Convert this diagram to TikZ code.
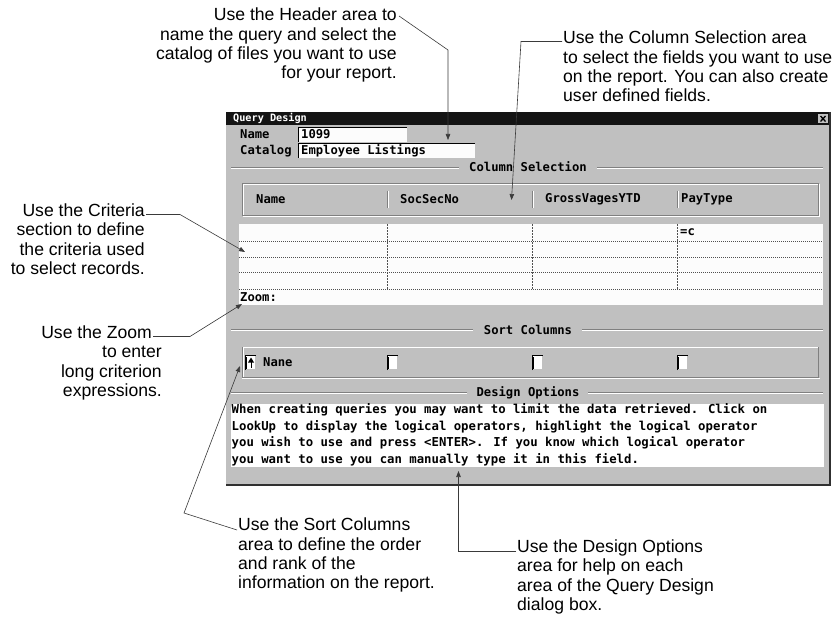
\documentclass[tikz,border=0pt]{standalone}
\usepackage{fontspec}
\setmainfont{Liberation Sans}
\newfontfamily\dlgfont{DejaVu Sans Mono}
\usetikzlibrary{arrows.meta}
\definecolor{wingray}{HTML}{C0C0C0}
\definecolor{winwhite}{HTML}{FCFCFC}
\definecolor{shade}{HTML}{808080}
\definecolor{titlebar}{HTML}{141414}
\definecolor{leader}{HTML}{3A3A3A}
\definecolor{dotc}{HTML}{505050}
\definecolor{frame}{HTML}{303030}
\tikzset{
  callout/.style={font=\fontsize{17.6}{19.3}\selectfont, inner sep=0pt, text=black},
  dlg/.style={font=\dlgfont\bfseries\fontsize{12.2}{14}\selectfont, inner sep=0pt, anchor=west, text=black},
  dlgbig/.style={font=\dlgfont\bfseries\fontsize{12.3}{14}\selectfont, inner sep=0pt, anchor=west, text=black},
  dlgtitle/.style={font=\dlgfont\bfseries\fontsize{10.2}{12}\selectfont, inner sep=0pt, anchor=west, text=white},
  leadline/.style={draw=leader, line width=0.6pt},
  pointer/.style={leadline, -{Triangle[length=6pt,width=4.5pt]}},
  etchdark/.style={draw=shade, line width=1pt},
  etchlight/.style={draw=white, line width=1pt},
  gridrule/.style={draw=dotc, line width=0.8pt, dash pattern=on 1pt off 1pt},
}
\begin{document}
\begin{tikzpicture}[x=1pt,y=-1pt]
\useasboundingbox (0,0) rectangle (834,620);
\fill[white] (0,0) rectangle (834,620);

% ---------- window ----------
\fill[wingray] (226,112) rectangle (831,485);
\draw[frame, line width=2pt] (830,112) -- (830,485) -- (226,485);
\fill[titlebar] (226,112) rectangle (829,125);
\node[dlgtitle] (title) at (233,118.5) {Query Design};
\fill[wingray] (818,114) rectangle (828,123.5);
\draw[black, line width=1.3pt] (820.5,116) -- (825.5,121.5) (825.5,116) -- (820.5,121.5);

% header fields
\node[dlg] (namelbl) at (240,134.5) {Name};
\fill[winwhite] (298,127) rectangle (407,142);
\draw[black, line width=1pt] (298.5,142) -- (298.5,127.5) -- (407,127.5);
\node[dlg] (nameval) at (301,134.5) {1099};
\node[dlg] (catlbl) at (240,151) {Catalog};
\fill[winwhite] (298,143.5) rectangle (475,158);
\draw[black, line width=1pt] (298.5,158) -- (298.5,144) -- (475,144);
\node[dlg] (catval) at (301,151) {Employee Listings};

% Column Selection
\draw[etchdark] (231,167.5) -- (459,167.5);
\draw[etchlight] (231,168.5) -- (459,168.5);
\draw[etchdark] (597,167.5) -- (823,167.5);
\draw[etchlight] (597,168.5) -- (823,168.5);
\node[dlg, anchor=center] (colsel) at (528,167) {Column Selection};
\draw[etchlight] (243.5,184.5) rectangle (819.5,216.5);
\draw[etchdark] (242.5,183.5) rectangle (818.5,215.5);
\node[dlg] (hname) at (256,199) {Name};
\node[dlg] (hsoc) at (400,199) {SocSecNo};
\node[dlg] (hgross) at (545,199) {GrossVagesYTD};
\node[dlg] (hpay) at (681,199) {PayType};
\foreach \xx in {387,532,677}{
  \draw[etchdark] (\xx,191) -- (\xx,208);
  \draw[etchlight] (\xx+1,191) -- (\xx+1,208);
}

% criteria grid
\fill[winwhite] (239,224) rectangle (823,305);
\foreach \yy in {241,257,272,289}{
  \draw[gridrule] (239,\yy) -- (823,\yy);
}
\foreach \xx in {387,532,677}{
  \draw[draw=dotc, line width=0.8pt, dash pattern=on 2pt off 1pt] (\xx,224) -- (\xx,289);
}
\node[dlg] (cval) at (680,232) {=c};
\node[dlg] (zoomlbl) at (240,297) {Zoom:};

% Sort Columns
\draw[etchdark] (231,329.5) -- (473,329.5);
\draw[etchlight] (231,330.5) -- (473,330.5);
\draw[etchdark] (582,329.5) -- (823,329.5);
\draw[etchlight] (582,330.5) -- (823,330.5);
\node[dlg, anchor=center] (sortttl) at (528,330) {Sort Columns};
\draw[etchlight] (243,347.5) -- (819,347.5);
\draw[etchdark] (242.5,347) -- (242.5,377.5) -- (818.5,377.5) -- (818.5,347);
\draw[etchlight] (243.5,348) -- (243.5,376.5);
\draw[etchlight] (242,378.5) -- (820,378.5);
\foreach \xx in {245,387,532,677}{
  \fill[white] (\xx,355) rectangle (\xx+11,370);
  \draw[black, line width=1pt] (\xx+0.5,370) -- (\xx+0.5,355.5) -- (\xx+11,355.5);
  \draw[shade, line width=1pt] (\xx+1.5,369) -- (\xx+1.5,356.5);
  \draw[wingray, line width=1pt] (\xx+1,369.5) -- (\xx+10.5,369.5) -- (\xx+10.5,356);
}
\fill[black] (251,357.5) -- (254,362.5) -- (248,362.5) -- cycle;
\draw[black, line width=1pt] (251,362) -- (251,368);
\node[dlg] (sortname) at (263,362) {Nane};

% Design Options
\draw[etchdark] (231,392.5) -- (467,392.5);
\draw[etchlight] (231,393.5) -- (467,393.5);
\draw[etchdark] (588,392.5) -- (823,392.5);
\draw[etchlight] (588,393.5) -- (823,393.5);
\node[dlg, anchor=center] (designttl) at (528,393) {Design Options};
\fill[white] (231,404) rectangle (824,467);
\node[dlgbig] (d1) at (231.5,410) {When creating queries you may want to limit the data retrieved. Click on};
\node[dlgbig] (d2) at (231.5,426.5) {LookUp to display the logical operators, highlight the logical operator};
\node[dlgbig] (d3) at (231.5,443) {you wish to use and press <ENTER>. If you know which logical operator};
\node[dlgbig] (d4) at (231.5,459.5) {you want to use you can manually type it in this field.};

% ---------- callouts ----------
\node[callout, align=right, anchor=north east] (hdrnote) at (397,8) {Use the Header area to\\name the query and select the\\catalog of files you want to use\\for your report.};
\node[callout, align=left, anchor=north west] (colnote) at (563,31) {Use the Column Selection area\\to select the fields you want to use\\on the report. You can also create\\user defined fields.};
\node[callout, align=right, anchor=north east] (critnote) at (145,203.5) {Use the Criteria\\section to define\\the criteria used\\to select records.};
\node[callout, align=right, anchor=north east] (zoomnote) at (162,325.5) {Use the Zoom\hspace*{10pt}\\to enter\\long criterion\\expressions.};
\node[callout, align=left, anchor=north west] (sortnote) at (238,518) {Use the Sort Columns\\area to define the order\\and rank of the\\information on the report.};
\node[callout, align=left, anchor=north west] (desnote) at (517,539.5) {Use the Design Options\\area for help on each\\area of the Query Design\\dialog box.};

% ---------- connectors ----------
\coordinate (h1) at (399,16);
\coordinate (h2) at (448,50);
\coordinate (htip) at (448,140);
\draw[pointer] (h1) -- (h2) -- (htip);

\coordinate (c1) at (562,41.5);
\coordinate (c2) at (521,41.5);
\coordinate (ctip) at (511.5,200);
\draw[pointer] (c1) -- (c2) -- (ctip);

\coordinate (k1) at (146,214.5);
\coordinate (k2) at (180,214.5);
\coordinate (ktip) at (245,252);
\draw[pointer] (k1) -- (k2) -- (ktip);

\coordinate (z1) at (153,336.5);
\coordinate (z2) at (190,336.5);
\coordinate (ztip) at (242,304);
\draw[pointer] (z1) -- (z2) -- (ztip);

\coordinate (s1) at (237,530);
\coordinate (s2) at (184,513);
\coordinate (stip) at (240,366);
\draw[pointer] (s1) -- (s2) -- (stip);

\coordinate (e1) at (516,551);
\coordinate (e2) at (458.5,551);
\coordinate (etip) at (458.5,471);
\draw[pointer] (e1) -- (e2) -- (etip);
\end{tikzpicture}
\end{document}
